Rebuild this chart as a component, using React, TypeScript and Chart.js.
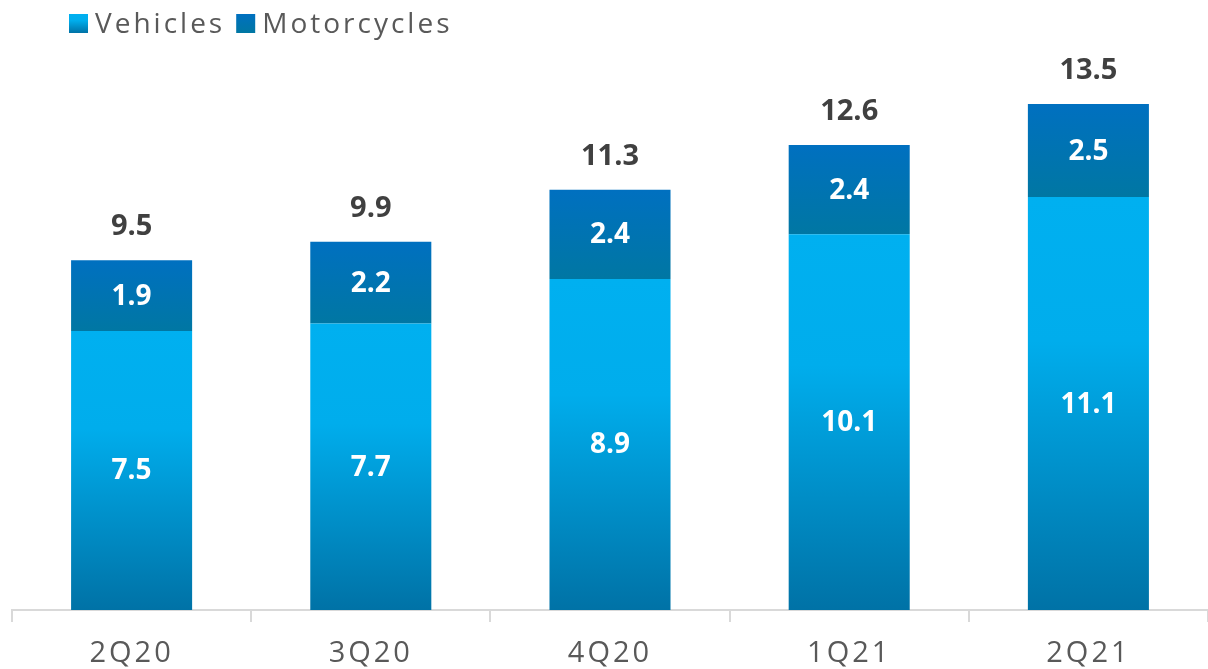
import React, { useEffect, useRef } from "react";
import { Chart, registerables } from "chart.js";

Chart.register(...registerables);

const categories = ["2Q20", "3Q20", "4Q20", "1Q21", "2Q21"];
const vehicles = [7.5, 7.7, 8.9, 10.1, 11.1];
const motorcycles = [1.9, 2.2, 2.4, 2.4, 2.5];
const totals = [9.5, 9.9, 11.3, 12.6, 13.5];
const seriesNames = ["Vehicles", "Motorcycles"];

const FONT = "'Open Sans', 'DejaVu Sans', sans-serif";
const vehicleStops: [number, string][] = [
  [0, "#00B0F0"],
  [0.35, "#00ADEC"],
  [1, "#0072A6"],
];
const motoStops: [number, string][] = [
  [0, "#0070C0"],
  [1, "#0077A3"],
];

function makeGradient(ctx: CanvasRenderingContext2D, top: number, bottom: number, stops: [number, string][]) {
  const g = ctx.createLinearGradient(0, top, 0, bottom);
  stops.forEach(([o, c]) => g.addColorStop(o, c));
  return g;
}

function segmentColor(stops: [number, string][], dsIndex: number) {
  return (c: any) => {
    const chart = c.chart;
    const y = chart.scales && chart.scales.y;
    if (c.type !== "data" || !y || !chart.chartArea) return stops[0][1];
    const i = c.dataIndex;
    const start = dsIndex === 0 ? 0 : vehicles[i];
    const end = start + (dsIndex === 0 ? vehicles[i] : motorcycles[i]);
    const top = y.getPixelForValue(end);
    const bottom = y.getPixelForValue(start);
    return makeGradient(chart.ctx, top, bottom, stops);
  };
}

const labelPlugin = {
  id: "labelPlugin",
  beforeDraw(chart: any) {
    (chart.ctx as any).letterSpacing = "3px";
  },
  beforeDatasetsDraw(chart: any) {
    (chart.ctx as any).letterSpacing = "0px";
  },
  afterDatasetsDraw(chart: any) {
    const ctx = chart.ctx;
    ctx.save();
    (ctx as any).letterSpacing = "0px";
    ctx.textAlign = "center";
    ctx.textBaseline = "middle";
    ctx.fillStyle = "#FFFFFF";
    ctx.font = `bold 28px ${FONT}`;
    chart.data.datasets.forEach((ds: any, di: number) => {
      const meta = chart.getDatasetMeta(di);
      meta.data.forEach((el: any, i: number) => {
        const p = el.getProps(["x", "y", "base"], true);
        ctx.fillText(String(ds.data[i].toFixed(1)), p.x, (p.y + p.base) / 2 + 1);
      });
    });
    const topMeta = chart.getDatasetMeta(1);
    ctx.fillStyle = "#404040";
    ctx.font = `bold 29px ${FONT}`;
    ctx.textBaseline = "alphabetic";
    topMeta.data.forEach((el: any, i: number) => {
      const p = el.getProps(["x", "y"], true);
      ctx.fillText(totals[i].toFixed(1), p.x, p.y - 25);
    });
    ctx.restore();
  },
  afterDraw(chart: any) {
    const ctx = chart.ctx;
    ctx.save();
    ctx.font = `28px ${FONT}`;
    (ctx as any).letterSpacing = "3px";
    ctx.textBaseline = "alphabetic";
    ctx.textAlign = "left";
    let x = 69;
    const boxTop = 14;
    const box = 19;
    const allStops = [vehicleStops, motoStops];
    seriesNames.forEach((name, i) => {
      ctx.fillStyle = makeGradient(ctx, boxTop, boxTop + box, allStops[i]);
      ctx.fillRect(x, boxTop, box, box);
      x += box + 7;
      ctx.fillStyle = "#595959";
      ctx.fillText(name, x, 33);
      x += ctx.measureText(name).width + 11;
    });
    ctx.restore();
  },
};

export default function App() {
  const ref = useRef<HTMLCanvasElement | null>(null);
  useEffect(() => {
    document.body.style.margin = "0";
    if (!ref.current) return;
    const chart = new Chart(ref.current, {
      type: "bar",
      data: {
        labels: categories,
        datasets: [
          {
            label: seriesNames[0],
            data: vehicles,
            backgroundColor: segmentColor(vehicleStops, 0) as any,
            borderWidth: 0,
          },
          {
            label: seriesNames[1],
            data: motorcycles,
            backgroundColor: segmentColor(motoStops, 1) as any,
            borderWidth: 0,
          },
        ],
      },
      options: {
        responsive: false,
        animation: false,
        layout: { padding: { top: 52, left: 12, right: 0, bottom: 0 } },
        datasets: { bar: { categoryPercentage: 1, barPercentage: 0.506 } },
        plugins: { legend: { display: false }, tooltip: { enabled: false } },
        scales: {
          x: {
            stacked: true,
            grid: {
              offset: true,
              drawOnChartArea: false,
              drawTicks: true,
              tickLength: 12,
              color: "#D9D9D9",
              lineWidth: 2,
            },
            border: { color: "#D9D9D9", width: 2 },
            ticks: { color: "#595959", font: { family: FONT, size: 29 }, padding: 14 },
            afterFit: (s: any) => {
              s.height = 59;
            },
          },
          y: { stacked: true, display: false, min: 0, max: 15 },
        },
      },
      plugins: [labelPlugin],
    });
    return () => chart.destroy();
  }, []);
  return (
    <div style={{ width: 1208, height: 669 }}>
      <canvas ref={ref} width={1208} height={669} />
    </div>
  );
}
